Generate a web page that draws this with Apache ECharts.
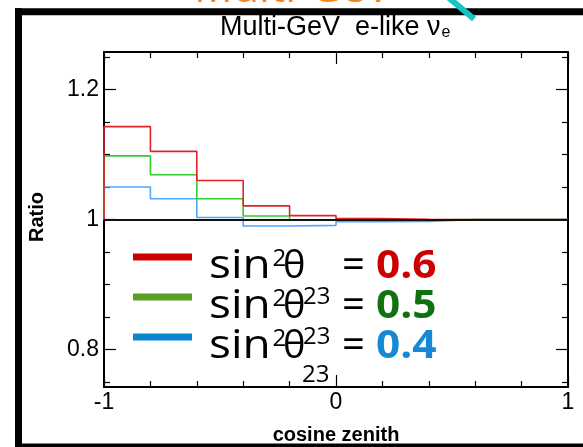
<!DOCTYPE html>
<html>
<head>
<meta charset="utf-8">
<script src="https://cdn.jsdelivr.net/npm/echarts@6/dist/echarts.min.js"></script>
<style>
  html, body { margin: 0; padding: 0; background: #ffffff; }
  #chart { width: 583px; height: 447px; }
</style>
</head>
<body>
<div id="chart"></div>
<script>
// Bin edges in cosine zenith and the oscillated / reference ratio per bin
const binEdges = [-1, -0.8, -0.6, -0.4, -0.2, 0, 0.2, 0.4, 0.6, 0.8, 1];
const ratioSin06 = [1.143, 1.105, 1.060, 1.021, 1.006, 1.0016, 1.0005, 1.0, 1.0, 1.0];
const ratioSin05 = [1.098, 1.069, 1.032, 1.0055, 0.9995, 0.998, 0.9995, 1.0, 1.0, 1.0];
const ratioSin04 = [1.050, 1.032, 1.003, 0.990, 0.991, 0.9965, 0.997, 1.0, 1.0, 1.0];
const baseline = 1;

// Axis range and tick positions
const yRange = [0.742, 1.258];
const yMajorTicks = [0.8, 1, 1.2];
const yMinorTicks = [0.75, 0.85, 0.9, 0.95, 1.05, 1.1, 1.15, 1.25];
const xTickLabels = [-1, 0, 1];

// Legend entries: sin^2(theta_23) values
const mixingValues = ['0.6', '0.5', '0.4'];

const histColors = ['#e02424', '#33cc33', '#4da6ff'];
const legendBarColors = ['#cc0000', '#5a9e22', '#0a86d0'];
const legendValueColors = ['#cc0000', '#0f720f', '#1589d6'];

function stepData(values) {
  const pts = [[binEdges[0], baseline]];
  values.forEach((v, i) => pts.push([binEdges[i], v]));
  pts.push([binEdges[binEdges.length - 1], values[values.length - 1]]);
  return pts;
}

const chart = echarts.init(document.getElementById('chart'), null, { renderer: 'canvas' });

const tickStyle = { color: '#000', width: 1.2 };
const axisFont = { fontFamily: 'Liberation Sans', fontSize: 23, color: '#000' };

function yAxisDef(position, ticks, len, withLabels, withLine) {
  return {
    type: 'value', position: position, min: yRange[0], max: yRange[1],
    axisLine: { show: withLine, onZero: false, lineStyle: { color: '#000', width: 2 } },
    axisTick: { show: true, inside: true, length: len, customValues: ticks, lineStyle: tickStyle },
    axisLabel: withLabels
      ? Object.assign({ show: true, margin: 5, customValues: ticks }, axisFont)
      : { show: false },
    splitLine: { show: false }
  };
}

function xAxisDef(position, withLabels) {
  return {
    type: 'value', position: position, min: binEdges[0], max: binEdges[binEdges.length - 1], interval: 1,
    axisLine: { show: true, onZero: false, lineStyle: { color: '#000', width: 2 } },
    axisTick: { show: true, inside: true, length: 12, lineStyle: tickStyle },
    minorTick: { show: true, splitNumber: 5, length: 6, lineStyle: tickStyle },
    axisLabel: withLabels
      ? Object.assign({ show: true, margin: 4, showMinLabel: true, showMaxLabel: true,
          customValues: xTickLabels }, axisFont)
      : { show: false },
    splitLine: { show: false }
  };
}

// Legend text block (positioned text pieces)
const legendBaselines = [282, 322, 362];
const mainFont = '40px "Open Sans"';
const supFont = '24px "Open Sans"';
function txt(x, y, text, font, fill, sx) {
  return { type: 'text', x: x, y: y, scaleX: sx || 1,
    style: { text: text, font: font, fill: fill, align: 'left', verticalAlign: 'middle' } };
}
const legendGraphics = [];
mixingValues.forEach((val, i) => {
  const b = legendBaselines[i];
  const mid = b - 15.5;
  legendGraphics.push({
    type: 'line', shape: { x1: 133, y1: b - 25, x2: 192, y2: b - 25 },
    style: { stroke: legendBarColors[i], lineWidth: 7 }
  });
  legendGraphics.push(txt(209, mid, 'sin', mainFont, '#000', 1.15));
  legendGraphics.push(txt(272.5, b - 23, '2', supFont, '#000'));
  legendGraphics.push(txt(283, b - 14.7, 'θ', '38px "Open Sans"', '#000'));
  if (i > 0) legendGraphics.push(txt(303, b - 25.3, '23', supFont, '#000'));
  legendGraphics.push(txt(342, mid, '=', mainFont, '#000'));
  legendGraphics.push(txt(376, mid, val, 'bold 40px "Open Sans"', legendValueColors[i], 1.06));
});
legendGraphics.push(txt(302, 384 - 9.3, '23', supFont, '#000'));

const option = {
  animation: false,
  backgroundColor: '#ffffff',
  grid: { left: 104, right: 15, top: 52, bottom: 60, outerBoundsMode: 'none', containLabel: false },
  xAxis: [xAxisDef('bottom', true), xAxisDef('top', false)],
  yAxis: [
    yAxisDef('left', yMajorTicks, 12, true, true),
    yAxisDef('left', yMinorTicks, 6, false, false),
    yAxisDef('right', yMajorTicks, 12, false, true),
    yAxisDef('right', yMinorTicks, 6, false, false)
  ],
  series: [
    { name: mixingValues[2], type: 'line', step: 'end', data: stepData(ratioSin04),
      showSymbol: false, symbol: 'none', lineStyle: { color: histColors[2], width: 1.6 }, z: 2 },
    { name: mixingValues[1], type: 'line', step: 'end', data: stepData(ratioSin05),
      showSymbol: false, symbol: 'none', lineStyle: { color: histColors[1], width: 1.6 }, z: 3 },
    { name: mixingValues[0], type: 'line', step: 'end', data: stepData(ratioSin06),
      showSymbol: false, symbol: 'none', lineStyle: { color: histColors[0], width: 1.6 }, z: 4 },
    { name: 'unity', type: 'line', data: [], z: 5,
      markLine: { silent: true, symbol: 'none', label: { show: false },
        lineStyle: { color: '#111', width: 2, type: 'solid' },
        data: [{ yAxis: baseline }] } }
  ],
  graphic: [
    // slide heading fragments above the plot frame
    { type: 'text', x: 194, y: -10.5, z: 10,
      style: { text: 'Multi-GeV', font: '43px "Open Sans"', fill: '#f5821f', align: 'left', verticalAlign: 'middle' } },
    { type: 'text', x: 53, y: -12.5, z: 10,
      style: { text: 'GeV', font: '43px "Open Sans"', fill: '#4a90d9', align: 'right', verticalAlign: 'middle' } },
    // outer frame
    { type: 'line', z: 20, shape: { x1: 15, y1: 11.7, x2: 583, y2: 11.7 }, style: { stroke: '#000', lineWidth: 7 } },
    { type: 'line', z: 20, shape: { x1: 18.5, y1: 8.2, x2: 18.5, y2: 447 }, style: { stroke: '#000', lineWidth: 7 } },
    { type: 'line', z: 20, shape: { x1: 15, y1: 445.2, x2: 583, y2: 445.2 }, style: { stroke: '#000', lineWidth: 3.5 } },
    { type: 'line', z: 21, shape: { x1: 449, y1: -2, x2: 474, y2: 19 }, style: { stroke: '#17c4c4', lineWidth: 6 } },
    // plot title
    { type: 'text', x: 220, y: 27.5, z: 10,
      style: { text: 'Multi-GeV  e-like ν{sub|e}', font: '27px "Liberation Sans"', fill: '#000',
        align: 'left', verticalAlign: 'middle',
        rich: { sub: { font: '16px "Liberation Sans"', fill: '#000', verticalAlign: 'bottom', padding: [0, 0, 0, 1] } } } },
    // axis titles
    { type: 'text', x: 37, y: 217, rotation: Math.PI / 2, z: 10,
      style: { text: 'Ratio', font: 'bold 20px "Liberation Sans"', fill: '#000', align: 'center', verticalAlign: 'middle' } },
    { type: 'text', x: 336, y: 435, z: 10,
      style: { text: 'cosine zenith', font: 'bold 20px "Liberation Sans"', fill: '#000', align: 'center', verticalAlign: 'middle' } }
  ].concat(legendGraphics.map(g => Object.assign({ z: 15 }, g)))
};

chart.setOption(option);
</script>
</body>
</html>
